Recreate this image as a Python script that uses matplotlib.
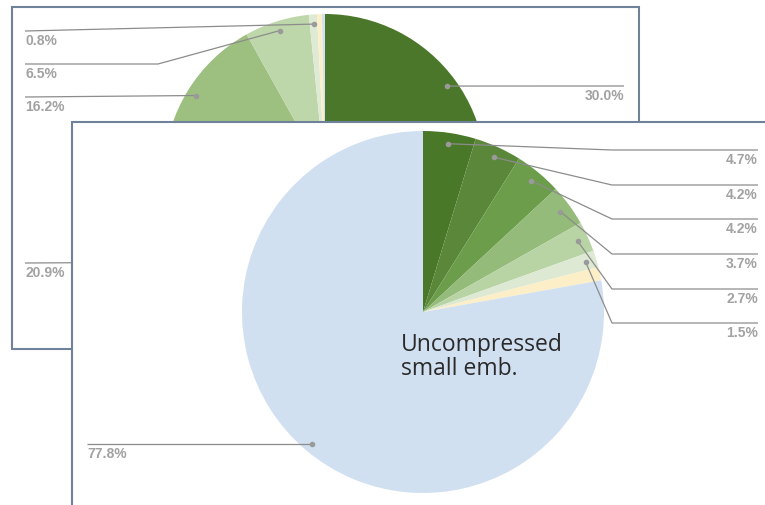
import numpy as np
import matplotlib.pyplot as plt
from matplotlib.patches import Rectangle

# back chart (partly hidden behind the front one)
back_values = [30.0, 13.1, 11.7, 20.9, 16.2, 6.5, 0.8, 0.5, 0.3]
back_colors = ['#4a7729', '#5d8a3c', '#75a055', '#8db46f', '#9dbf80',
               '#bed7aa', '#dfead5', '#fcefc8', '#d2e1f0']
back_labels = ['30.0%', '', '', '20.9%', '16.2%', '6.5%', '0.8%', '', '']

# front chart
front_values = [4.7, 4.2, 4.2, 3.7, 2.7, 1.5, 1.2, 77.8]
front_colors = ['#497828', '#5a873a', '#6b9d4b', '#94bb79', '#b9d4a4',
                '#dde9d3', '#fcefc8', '#d0e0f0']
front_labels = ['4.7%', '4.2%', '4.2%', '3.7%', '2.7%', '1.5%', '', '77.8%']
center_text = ['Uncompressed', 'small emb.']

W, H = 765, 506
LINE = '#8c8c8c'
TXT = '#a2a2a2'
BORDER = '#6f8299'

fig = plt.figure(figsize=(W / 100, H / 100), dpi=100)
ax = fig.add_axes([0, 0, 1, 1])


def draw_pie(values, colors, center, radius, z):
    wedges, _ = ax.pie(values, colors=colors, center=center, radius=radius,
                       startangle=-90, counterclock=True,
                       wedgeprops=dict(linewidth=0))
    for w in wedges:
        w.set_zorder(z)
    return wedges


def anchor(w, center, radius, f=0.94):
    a = np.deg2rad((w.theta1 + w.theta2) / 2)
    return center[0] + f * radius * np.cos(a), center[1] + f * radius * np.sin(a)


def leader(pts, text, tx, ty, ha, z):
    xs, ys = zip(*pts)
    ax.plot(xs, ys, color=LINE, lw=0.9, zorder=z, solid_capstyle='butt')
    ax.plot(xs[0], ys[0], 'o', ms=3, color='#9a9a9a', zorder=z)
    ax.text(tx, ty, text, ha=ha, va='center', fontsize=10, fontweight='bold',
            color=TXT, family='Liberation Sans', zorder=z)


# back panel
ax.add_patch(Rectangle((12, 8), 627, 342, facecolor='white', edgecolor=BORDER,
                       lw=1.5, zorder=1))
bc, br = (325, 176), 161
bw = draw_pie(back_values, back_colors, bc, br, 2)
back_route = {
    '30.0%': ([(624, 87)], 624, 96, 'right'),
    '20.9%': ([(25, 264)], 25, 273, 'left'),
    '16.2%': ([(25, 98)], 25, 107, 'left'),
    '6.5%': ([(158, 65), (25, 65)], 25, 74, 'left'),
    '0.8%': ([(25, 32)], 25, 41, 'left'),
}
for w, lab in zip(bw, back_labels):
    if lab:
        pts, tx, ty, ha = back_route[lab]
        leader([anchor(w, bc, br)] + pts, lab, tx, ty, ha, 3)

# front panel
ax.add_patch(Rectangle((72, 123), 720, 420, facecolor='white', edgecolor=BORDER,
                       lw=1.5, zorder=4))
fc, fr = (423, 313), 181
fw = draw_pie(front_values, front_colors, fc, fr, 5)
line_y = [151, 186, 220, 255, 290, 324]
k = 0
for w, lab in zip(fw, front_labels):
    if not lab:
        continue
    if lab == '77.8%':
        p = anchor(w, fc, fr, 0.955)
        leader([p, (87, p[1])], lab, 87, p[1] + 9, 'left', 6)
    else:
        y = line_y[k]
        k += 1
        leader([anchor(w, fc, fr), (612, y), (758, y)], lab, 758, y + 9, 'right', 6)

for i, line in enumerate(center_text):
    ax.text(401, 351 + 24 * i, line, ha='left', va='baseline', fontsize=16.5,
            family='Open Sans', color='#2a2a2a', zorder=7)

ax.set_xlim(0, W)
ax.set_ylim(H, 0)
ax.set_aspect('equal')
ax.axis('off')
fig.savefig('out.png', dpi=100)
